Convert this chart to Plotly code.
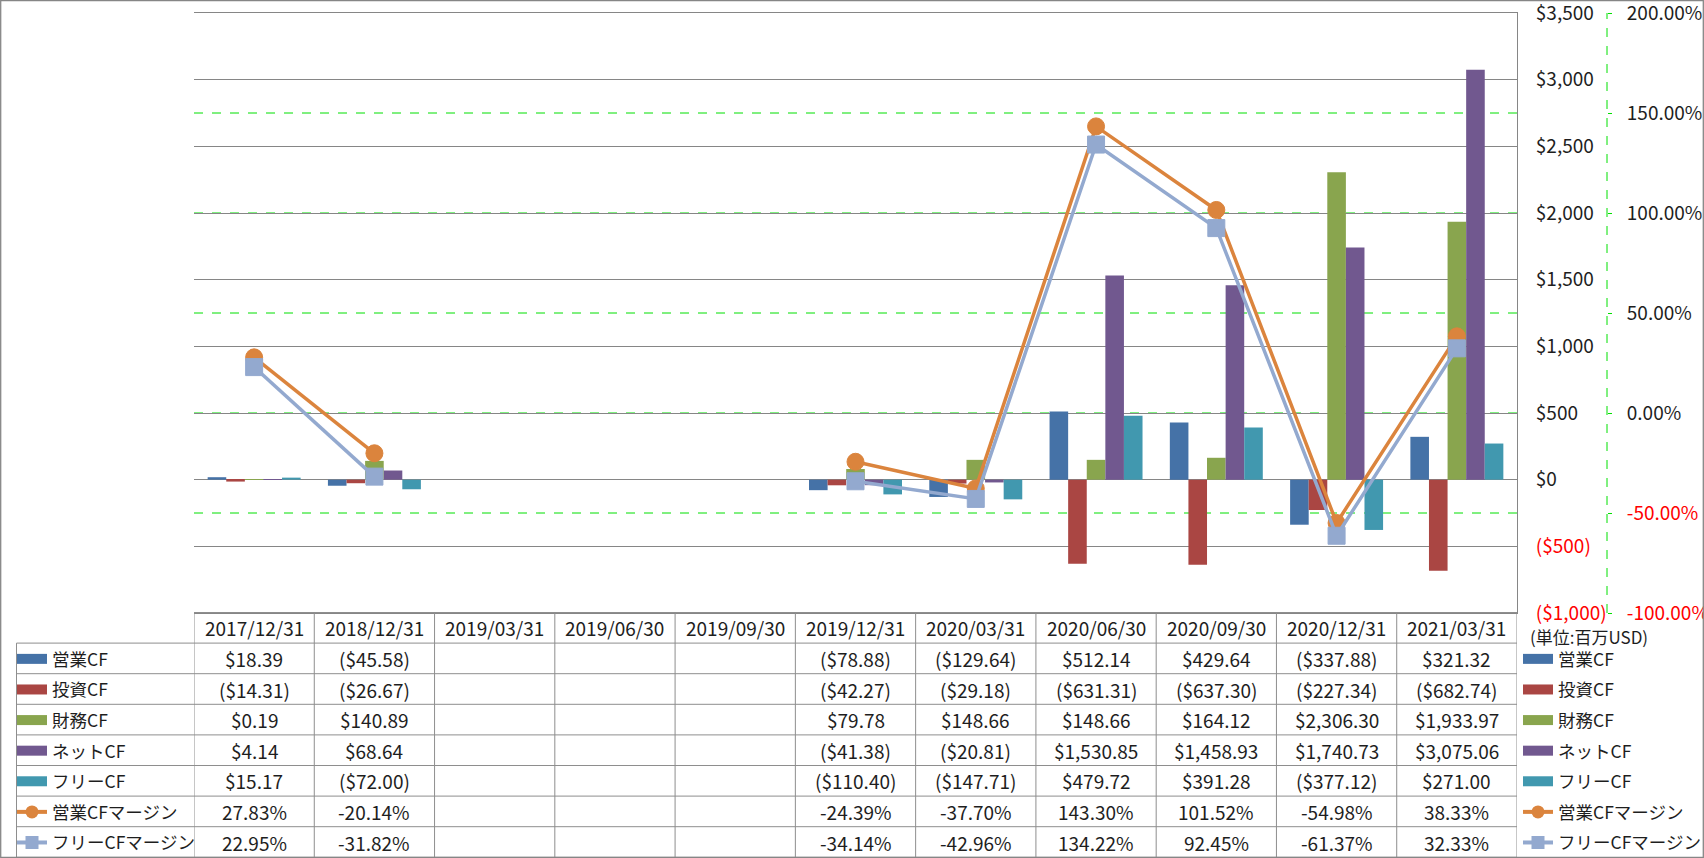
import plotly.graph_objects as go

# ---------------- data ----------------
categories = ["2017/12/31", "2018/12/31", "2019/03/31", "2019/06/30", "2019/09/30",
              "2019/12/31", "2020/03/31", "2020/06/30", "2020/09/30", "2020/12/31", "2021/03/31"]
op_cf = [18.39, -45.58, None, None, None, -78.88, -129.64, 512.14, 429.64, -337.88, 321.32]
inv_cf = [-14.31, -26.67, None, None, None, -42.27, -29.18, -631.31, -637.30, -227.34, -682.74]
fin_cf = [0.19, 140.89, None, None, None, 79.78, 148.66, 148.66, 164.12, 2306.30, 1933.97]
net_cf = [4.14, 68.64, None, None, None, -41.38, -20.81, 1530.85, 1458.93, 1740.73, 3075.06]
free_cf = [15.17, -72.00, None, None, None, -110.40, -147.71, 479.72, 391.28, -377.12, 271.00]
op_margin = [27.83, -20.14, None, None, None, -24.39, -37.70, 143.30, 101.52, -54.98, 38.33]
free_margin = [22.95, -31.82, None, None, None, -34.14, -42.96, 134.22, 92.45, -61.37, 32.33]

bar_names = ["営業CF", "投資CF", "財務CF", "ネットCF", "フリーCF"]
line_names = ["営業CFマージン", "フリーCFマージン"]
usd_ticks = [-1000, -500, 0, 500, 1000, 1500, 2000, 2500, 3000, 3500]
pct_ticks = [-100, -50, 0, 50, 100, 150, 200]
unit_label = "(単位:百万USD)"

bar_values = [op_cf, inv_cf, fin_cf, net_cf, free_cf]
line_values = [op_margin, free_margin]

# ---------------- style ----------------
bar_colors = ["#4572A7", "#AA4643", "#89A54E", "#71588F", "#4198AF"]
line_colors = ["#DB843D", "#93A9CF"]
line_symbols = ["circle", "square"]
FONT = "Noto Sans CJK JP, Noto Sans, sans-serif"
FS = 19
LEG_FS = 17.5
TXT = "#1E1E1E"
GRID = "#868686"
TLINE = "#8E8E8E"
GREEN = "#00E000"
RED = "#FF0000"

W, H = 1704, 858
ML, MR, MT, MB = 194, 97, 13, 245
PW = W - ML - MR          # paper width  (1413)
PH = H - MT - MB          # paper height (600)
PLOT_RIGHT = 1517


def px(x):
    return (x - ML) / PW


def py(y):
    return (H - MB - y) / PH


def fmt_usd(v):
    s = f"${abs(v):,.2f}"
    return f"({s})" if v < 0 else s


def fmt_pct(v):
    return f"{v:.2f}%"


def usd_tick(v):
    s = f"${abs(v):,.0f}"
    return f'<span style="color:{RED}">({s})</span>' if v < 0 else s


def pct_tick(v):
    s = f"{v:.2f}%"
    return f'<span style="color:{RED}">{s}</span>' if v < 0 else s


fig = go.Figure()

# bars
for name, vals, col in zip(bar_names, bar_values, bar_colors):
    fig.add_trace(go.Bar(x=categories, y=vals, name=name, marker=dict(color=col, line=dict(width=0)),
                         showlegend=False, yaxis="y"))

# lines
for name, vals, col, sym in zip(line_names, line_values, line_colors, line_symbols):
    fig.add_trace(go.Scatter(x=categories, y=vals, name=name, yaxis="y2", mode="lines+markers",
                             connectgaps=False, line=dict(color=col, width=3.5),
                             marker=dict(symbol=sym, size=17, color=col,
                                         line=dict(width=1, color=col)),
                             showlegend=False))

# legend-only entries (right legend and table-row legend)
for L in ["legend", "legend2"]:
    for i, (name, col) in enumerate(zip(bar_names, bar_colors)):
        fig.add_trace(go.Scatter(x=[None], y=[None], name=name, mode="lines",
                                 line=dict(color=col, width=10), legend=L,
                                 legendgroup=f"{L}_{i}", showlegend=True, hoverinfo="skip"))
    for j, (name, col, sym) in enumerate(zip(line_names, line_colors, line_symbols)):
        fig.add_trace(go.Scatter(x=[None], y=[None], name=name, mode="lines+markers",
                                 line=dict(color=col, width=4),
                                 marker=dict(symbol=sym, size=13, color=col),
                                 legend=L, legendgroup=f"{L}_{5 + j}", showlegend=True,
                                 hoverinfo="skip"))

# ---------------- table ----------------
ROW_TOP = 612.5
ROW_H = 30.6
shapes = []
annotations = []


def row_center(k):
    return ROW_TOP + ROW_H * (k + 0.5)


# header dates
for c in categories:
    annotations.append(dict(x=c, xref="x", y=py(row_center(0)), yref="paper", text=c,
                            showarrow=False, xanchor="center", yanchor="middle",
                            font=dict(family=FONT, size=FS, color=TXT)))
# values
all_rows = [(v, fmt_usd) for v in bar_values] + [(v, fmt_pct) for v in line_values]
for r, (vals, f) in enumerate(all_rows):
    for c, v in zip(categories, vals):
        if v is None:
            continue
        annotations.append(dict(x=c, xref="x", y=py(row_center(r + 1)), yref="paper", text=f(v),
                                showarrow=False, xanchor="center", yanchor="middle",
                                font=dict(family=FONT, size=FS, color=TXT)))

n_rows = 1 + len(all_rows)
bottom = ROW_TOP + ROW_H * n_rows
# horizontal table lines
shapes.append(dict(type="line", xref="paper", yref="paper", x0=px(ML), x1=px(PLOT_RIGHT),
                   y0=py(ROW_TOP), y1=py(ROW_TOP), line=dict(color=TLINE, width=1)))
for k in range(1, n_rows + 1):
    yk = py(ROW_TOP + ROW_H * k)
    shapes.append(dict(type="line", xref="paper", yref="paper", x0=px(16.5), x1=px(PLOT_RIGHT),
                       y0=yk, y1=yk, line=dict(color=TLINE, width=1)))
# vertical table lines
for i in range(len(categories) + 1):
    shapes.append(dict(type="line", xref="x", yref="paper", x0=i - 0.5, x1=i - 0.5,
                       y0=py(ROW_TOP), y1=py(bottom), line=dict(color=TLINE, width=1)))
shapes.append(dict(type="line", xref="paper", yref="paper", x0=px(16.5), x1=px(16.5),
                   y0=py(ROW_TOP + ROW_H), y1=py(bottom), line=dict(color=TLINE, width=1)))

# green dashed % gridlines, drawn beneath the grey $ gridlines
for v in pct_ticks[1:-1]:
    shapes.append(dict(type="line", xref="x", yref="y2", x0=-0.5, x1=len(categories) - 0.5,
                       y0=v, y1=v, layer="below", line=dict(color=GREEN, width=1, dash="dash")))

# secondary axis dashed line
shapes.append(dict(type="line", xref="paper", yref="y2", x0=1, x1=1, y0=pct_ticks[0], y1=pct_ticks[-1],
                   line=dict(color=GREEN, width=1, dash="dash")))

# outer chart border
shapes.append(dict(type="rect", xref="paper", yref="paper", x0=px(0.7), x1=px(W - 0.7),
                   y0=py(0.7), y1=py(H - 0.7), line=dict(color=GRID, width=1.3)))

annotations.append(dict(x=px(1528), xref="paper", y=py(636), yref="paper", text=unit_label,
                        showarrow=False, xanchor="left", yanchor="middle",
                        font=dict(family=FONT, size=17, color=TXT)))

legend_common = dict(xanchor="left", yanchor="top", traceorder="grouped",
                     tracegroupgap=ROW_H - (LEG_FS * 1.3 + 3),
                     bgcolor="rgba(0,0,0,0)", borderwidth=0, itemwidth=30,
                     font=dict(family=FONT, size=LEG_FS, color=TXT), itemclick=False,
                     itemdoubleclick=False)

fig.update_layout(
    width=W, height=H,
    margin=dict(l=ML, r=MR, t=MT, b=MB, autoexpand=False),
    paper_bgcolor="white", plot_bgcolor="white",
    font=dict(family=FONT, size=FS, color=TXT),
    barmode="group", bargap=0.227, bargroupgap=0,
    xaxis=dict(domain=[0, (PLOT_RIGHT - ML) / PW], type="category", categoryorder="array",
               categoryarray=categories, range=[-0.5, len(categories) - 0.5],
               showticklabels=False, showgrid=False, zeroline=False, showline=True, mirror=True,
               linecolor=GRID, linewidth=1, ticks="", fixedrange=True),
    yaxis=dict(side="right", range=[usd_ticks[0], usd_ticks[-1]], tickmode="array",
               tickvals=usd_ticks, ticktext=[usd_tick(v) for v in usd_ticks],
               showgrid=True, gridcolor=GRID, gridwidth=1, zeroline=False,
               showline=True, linecolor=GRID, linewidth=1, ticks="", ticklabelstandoff=14,
               ticklabeloverflow="allow",
               tickfont=dict(family=FONT, size=FS, color=TXT), fixedrange=True),
    yaxis2=dict(overlaying="y", side="right", anchor="free", position=1,
                range=[pct_ticks[0], pct_ticks[-1]], tickmode="array", tickvals=pct_ticks,
                ticktext=[pct_tick(v) for v in pct_ticks], showgrid=False, zeroline=False,
                showline=False, ticks="outside", ticklen=4, tickcolor=GREEN, tickwidth=1,
                ticklabelstandoff=11, ticklabeloverflow="allow",
                tickfont=dict(family=FONT, size=FS, color=TXT), fixedrange=True),
    legend=dict(x=px(1518), y=py(641), **legend_common),
    legend2=dict(x=px(12), y=py(641), **legend_common),
    shapes=shapes,
    annotations=annotations,
    hovermode=False,
)

fig.write_html("out.html", config={"displayModeBar": False},
               post_script="document.body.style.margin='0px';document.body.style.overflow='hidden';")
